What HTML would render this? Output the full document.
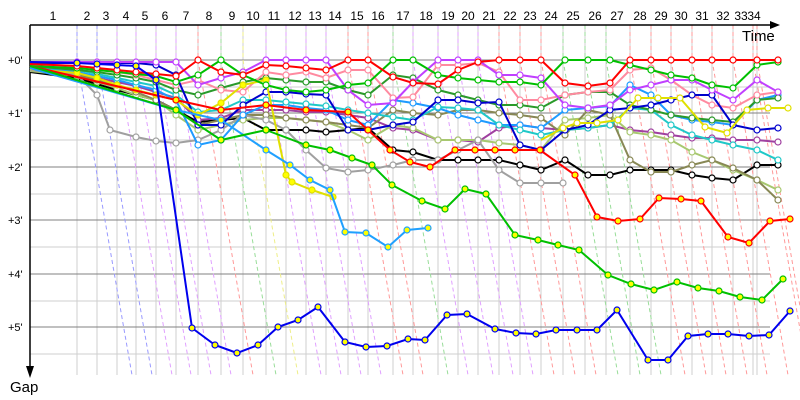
<!DOCTYPE html>
<html><head><meta charset="utf-8"><style>
html,body{margin:0;padding:0;background:#fff}
svg{display:block;font-family:"Liberation Sans",sans-serif}
</style></head><body>
<svg id="s" width="800" height="400" xmlns="http://www.w3.org/2000/svg"></svg>
<script>
var s=document.getElementById('s'),h='';
var G=[77,97,117,136,156,176,198,221,243,266,286,306,326,348,368,393,413,438,458,478,499,520,541,563,585,606,630,651,671,692,712,733,753,757];
for(var i=0;i<G.length;i++)h+='<line x1="'+G[i]+'" y1="25" x2="'+G[i]+'" y2="375" stroke="#cfcfcf"/>';
var Y=[60,113,167,220,274,327];
for(i=0;i<6;i++){h+='<line x1="30" y1="'+Y[i]+'" x2="770" y2="'+Y[i]+'" stroke="#808080"/>';
 h+='<line x1="30" y1="'+(Y[i]+27)+'" x2="770" y2="'+(Y[i]+27)+'" stroke="#cfcfcf"/>';
 h+='<text x="8" y="'+(Y[i]+4)+'" font-size="11">+'+i+'\'</text>';}
var dc=['#9999ff','#9999ff','#e0a0ff','#e0a0ff','#e0a0ff','#e0a0ff','#ff9999','#99dd99','#eeee88','#e0a0ff','#e0a0ff','#e0a0ff','#e0a0ff','#ff9999','#ff9999','#99dd99','#e0a0ff','#e0a0ff','#e0a0ff','#e0a0ff','#ff9999','#ff9999','#ff9999','#99dd99','#99dd99','#99dd99','#ff9999','#ff9999','#ff9999','#ff9999','#ff9999','#ff9999','#ff9999','#ff9999'];
for(i=0;i<G.length;i++)h+='<polyline points="'+G[i]+',25 '+G[i]+',60 '+(G[i]+55)+',375" fill="none" stroke="'+dc[i]+'" stroke-dasharray="4,3" stroke-width="1"/>';
var L=[53,87,106,126,145,165,186,209,232,253,274,295,315,335,357,378,403,426,448,468,489,510,530,551,573,595,617,640,661,681,702,723,741,754];
for(i=0;i<L.length;i++)h+='<text x="'+L[i]+'" y="20" font-size="12" text-anchor="middle">'+(i+1)+'</text>';
h+='<line x1="30" y1="25" x2="772" y2="25" stroke="#000" stroke-width="1.5"/><polygon points="770,21 780,25 770,29"/>';
h+='<line x1="30" y1="25" x2="30" y2="370" stroke="#000" stroke-width="1.5"/><polygon points="26,366 30,378 34,366"/>';
h+='<text x="742" y="41" font-size="15">Time</text><text x="10" y="392" font-size="15">Gap</text>';
var X=[30,77,97,117,136,156,176,198,221,243,266,286,306,326,348,368,393,413,438,458,478,499,520,541,565,588,610,630,651,671,692,712,733,757,778];
function ser(c,ys,fill){var p=[];for(var k=0;k<ys.length;k++)if(ys[k]!=null)p.push([X[k],ys[k]]);line(c,p,fill);}
function line(c,p,fill){var t='';for(var k=0;k<p.length;k++)t+=p[k][0]+','+p[k][1]+' ';
 h+='<polyline points="'+t+'" fill="none" stroke="'+c+'" stroke-width="2"/>';
 for(k=1;k<p.length;k++)h+='<circle cx="'+p[k][0]+'" cy="'+p[k][1]+'" r="3" fill="'+(fill||'#fff')+'" stroke="'+c+'" stroke-width="1.2"/>';}
ser('#000000',[72,78,84,90,95,100,110,122,120,118,130,130,130,132,130,128,150,152,160,160,160,160,165,170,160,175,175,170,170,170,175,178,180,165,165]);
ser('#a040a0',[70,74,78,82,86,92,98,120,118,110,110,110,112,112,115,118,128,130,140,140,142,128,125,128,130,128,125,130,132,135,138,138,140,140,142]);
ser('#a8c870',[71,76,82,88,95,100,115,130,125,120,118,118,120,122,130,140,125,128,140,140,140,143,145,150,120,118,115,132,135,140,152,160,170,180,190]);
ser('#888855',[70,75,80,85,92,100,110,125,120,115,115,118,120,122,125,128,110,113,115,110,110,113,115,118,135,110,115,160,172,172,165,160,168,180,200]);
line('#a0a0a0',[[30,70],[77,75],[97,95],[110,130],[136,137],[156,141],[176,143],[198,140],[221,130],[243,115],[266,120],[286,130],[306,150],[326,168],[348,172],[368,170],[393,165],[413,160],[438,160],[458,150],[478,140],[499,170],[520,183],[541,183],[563,183]]);
ser('#1e9bff',[68,72,76,80,85,90,100,145,140,115,105,105,108,110,120,125,100,103,108,115,120,125,125,128,110,108,106,85,95,115,120,122,125,100,95]);
ser('#20c8c8',[67,70,74,78,82,86,95,112,110,100,100,102,104,106,110,113,117,120,107,108,110,125,130,135,130,128,125,108,110,125,135,140,145,150,160]);
ser('#2a9a2a',[66,70,72,75,78,82,90,95,88,82,78,80,82,82,90,95,75,78,90,95,100,105,105,108,95,92,92,105,110,115,118,120,122,100,98]);
ser('#ff8aa0',[64,66,68,72,75,80,85,80,90,92,72,75,72,78,70,70,98,97,65,65,63,72,100,100,95,92,90,70,68,80,95,105,108,95,92]);
ser('#0000cc',[63,63,63,63,63,65,75,125,125,105,92,92,94,95,130,130,125,122,100,100,103,102,145,150,130,125,110,108,105,100,95,95,125,130,128]);
line('#e0e000',[[30,69],[77,73],[97,78],[117,85],[136,90],[156,95],[176,100],[198,115],[221,103],[243,85],[266,80],[286,175],[292,182],[312,190],[333,197]],'#ff0');
line('#e0e000',[[541,140],[563,128],[577,123],[597,123],[618,120],[638,98],[658,98],[680,98],[705,127],[727,133],[747,110],[768,108],[788,108]]);
line('#20a0ff',[[30,68],[176,110],[221,120],[266,150],[290,165],[310,180],[330,190],[345,232],[366,233],[388,247],[407,230],[428,228]],'#ff0');
ser('#c040ff',[62,62,62,62,62,62,62,85,78,72,60,60,60,60,90,105,103,82,60,60,60,75,75,78,105,108,105,90,85,80,80,90,100,80,92]);
ser('#00c000',[66,68,70,72,74,76,82,75,60,75,85,90,92,90,85,83,60,60,75,78,80,82,82,85,60,60,60,65,70,75,78,85,88,65,62]);
ser('#ff0000',[64,66,68,70,72,74,76,60,72,75,65,66,68,70,60,60,77,83,84,70,62,60,60,60,83,86,83,60,60,60,60,60,60,60,60]);
line('#ff0000',[[30,66],[176,100],[221,110],[266,105],[306,110],[348,112],[368,130],[390,150],[410,162],[430,167],[455,150],[475,150],[495,150],[515,150],[540,150],[575,175],[597,217],[618,221],[640,219],[659,198],[681,199],[701,201],[728,237],[749,243],[770,221],[790,219]],'#ff0');
line('#00c000',[[30,66],[176,110],[221,140],[266,130],[306,145],[330,150],[352,158],[372,165],[392,185],[422,201],[445,209],[465,189],[486,194],[515,235],[538,240],[558,245],[579,250],[608,275],[631,284],[654,290],[677,282],[698,288],[719,291],[740,297],[762,300],[783,279]],'#ff0');
line('#0000ee',[[30,62],[77,63],[97,64],[117,65],[136,66],[156,80],[192,328],[215,345],[237,353],[258,345],[278,327],[298,320],[318,307],[345,342],[366,347],[387,346],[408,339],[425,340],[447,315],[467,314],[495,329],[516,333],[536,334],[556,330],[577,330],[597,330],[617,310],[648,360],[668,360],[688,336],[708,334],[728,334],[749,336],[769,335],[790,311]],'#ff0');
s.innerHTML=h;
</script>
</body></html>
